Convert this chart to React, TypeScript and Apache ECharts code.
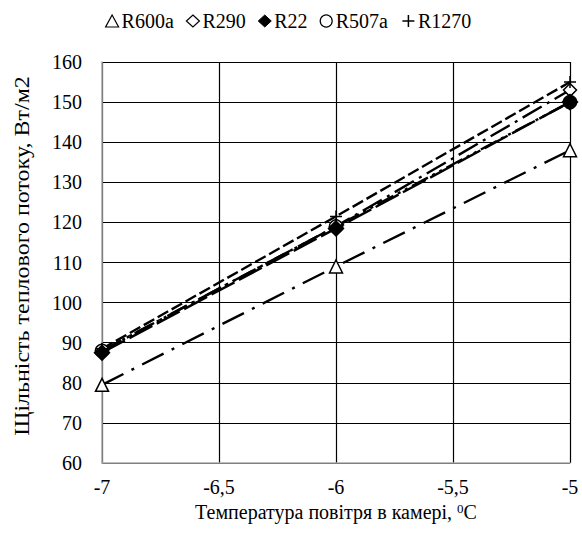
import React, { useEffect, useRef } from "react";
import * as echarts from "echarts";

const temps = [-7, -6, -5];
const r600a = [79.5, 109, 138];
const r290 = [88, 119, 153];
const r22 = [87.5, 118.5, 150];
const r507a = [88, 119, 150];
const r1270 = [88.5, 121.5, 155];
const yTitle = "Щільність теплового потоку, Вт/м2";

const FONT = "Liberation Serif";
const plusPath = "path://M5,0 L5,10 M0,5 L10,5";
const T = { fontFamily: FONT, fontSize: 20, color: "#000" };

export default function App() {
  const ref = useRef<HTMLDivElement>(null);
  useEffect(() => {
    const chart = echarts.init(ref.current!, null, { renderer: "svg" });
    const pts = (arr: number[]) => temps.map((t, i) => [t, arr[i]]);
    const lineBase = (name: string, data: number[], dash: number[], symbol: string, size: number, filled: boolean, z: number) => ({
      name,
      type: "line",
      data: pts(data),
      symbol,
      symbolSize: size,
      lineStyle: { color: "#000", width: 2.4, type: dash },
      itemStyle: { color: filled ? "#000" : "#fff", borderColor: "#000", borderWidth: 1.5 },
      z,
    });
    chart.setOption({
      animation: false,
      backgroundColor: "#fff",
      textStyle: { fontFamily: FONT },
      legend: {
        top: 6,
        left: 100,
        itemWidth: 13,
        itemHeight: 12,
        itemGap: 12,
        textStyle: { ...T, padding: [0, 0, 0, -2] },
        data: [
          { name: "R600a", icon: "triangle", itemStyle: { color: "#fff", borderColor: "#000", borderWidth: 1.2 } },
          { name: "R290", icon: "diamond", itemStyle: { color: "#fff", borderColor: "#000", borderWidth: 1.2 } },
          { name: "R22", icon: "diamond", itemStyle: { color: "#000", borderColor: "#000", borderWidth: 1 } },
          { name: "R507a", icon: "circle", itemStyle: { color: "#fff", borderColor: "#000", borderWidth: 1.2 } },
          { name: "R1270", icon: plusPath, itemStyle: { color: "none", borderColor: "#000", borderWidth: 1.5 } },
        ],
      },
      grid: { left: 102, right: 12, top: 62, bottom: 73 },
      graphic: [
        {
          type: "text",
          x: 22,
          y: 256,
          rotation: Math.PI / 2,
          scaleY: 0.85,
          style: {
            text: yTitle,
            fontFamily: FONT,
            fontSize: 24,
            fill: "#000",
            align: "center",
            verticalAlign: "middle",
          },
        },
      ],
      xAxis: {
        type: "value",
        min: -7,
        max: -5,
        interval: 0.5,
        axisLine: { lineStyle: { color: "#aaa", width: 1.5 } },
        axisTick: { show: false },
        splitLine: { show: true, lineStyle: { color: "#000", width: 1.2 } },
        axisLabel: {
          margin: 14,
          ...T,
          formatter: (v: number) => String(v).replace(".", ","),
        },
        name: "Температура повітря в камері, {sup|0}C",
        nameLocation: "middle",
        nameGap: 38,
        nameTextStyle: {
          ...T,
          rich: { sup: { fontFamily: FONT, fontSize: 13, verticalAlign: "top", padding: [0, 0, 8, 0], color: "#000" } },
        },
      },
      yAxis: {
        type: "value",
        min: 60,
        max: 160,
        interval: 10,
        axisLine: { show: true, lineStyle: { color: "#aaa", width: 1.5 } },
        axisTick: { show: false },
        splitLine: { show: true, lineStyle: { color: "#000", width: 1.2 } },
        axisLabel: { margin: 20, ...T },
      },
      series: [
        lineBase("R600a", r600a, [24, 9, 3, 9], "triangle", 13, false, 3),
        lineBase("R290", r290, [22, 6, 3, 6], "diamond", 13, false, 3),
        lineBase("R507a", r507a, [18, 5, 3, 5, 3, 5], "circle", 13, false, 3),
        lineBase("R22", r22, [26, 5], "diamond", 15, true, 4),
        {
          ...lineBase("R1270", r1270, [12, 4], plusPath, 12, false, 3),
          itemStyle: { color: "none", borderColor: "#000", borderWidth: 1.5 },
        },
      ],
    });
    return () => chart.dispose();
  }, []);
  return <div ref={ref} style={{ width: 582, height: 536, position: "absolute", left: 0, top: 0 }} />;
}
